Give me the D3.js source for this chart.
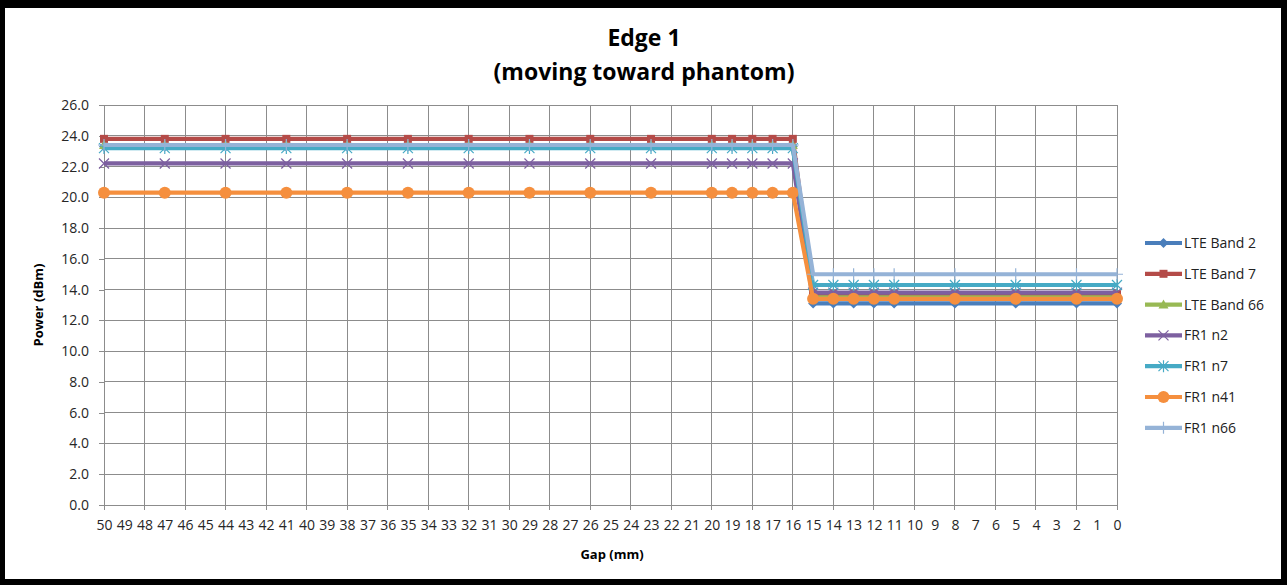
<!DOCTYPE html>
<html>
<head>
<meta charset="utf-8">
<script src="https://cdn.jsdelivr.net/npm/d3@7"></script>
<style>
  html, body { margin: 0; padding: 0; background: #000; }
  svg { display: block; }
</style>
</head>
<body>
<svg id="chart" width="1287" height="585"></svg>
<script>
// ---------- data ----------
const titleLines = ["Edge 1", "(moving toward phantom)"];
const xTitle = "Gap (mm)";
const yTitle = "Power (dBm)";

// every category on the axis (Excel category axis)
const categories = ["50","49","48","47","46","45","44","43","42","41","40","39","38","37","36","35","34","33","32","31","30","29","28","27","26","25","24","23","22","21","20","19","18","17","16","15","14","13","12","11","10","9","8","7","6","5","4","3","2","1","0"];

// gaps that carry measurements
const gaps = ["50","47","44","41","38","35","32","29","26","23","20","19","18","17","16","15","14","13","12","11","8","5","2","0"];

const seriesNames = ["LTE Band 2","LTE Band 7","LTE Band 66","FR1 n2","FR1 n7","FR1 n41","FR1 n66"];
const lteBand2  = [23.3,23.3,23.3,23.3,23.3,23.3,23.3,23.3,23.3,23.3,23.3,23.3,23.3,23.3,23.3,13.1,13.1,13.1,13.1,13.1,13.1,13.1,13.1,13.1];
const lteBand7  = [23.8,23.8,23.8,23.8,23.8,23.8,23.8,23.8,23.8,23.8,23.8,23.8,23.8,23.8,23.8,13.7,13.7,13.7,13.7,13.7,13.7,13.7,13.7,13.7];
const lteBand66 = [23.4,23.4,23.4,23.4,23.4,23.4,23.4,23.4,23.4,23.4,23.4,23.4,23.4,23.4,23.4,13.5,13.5,13.5,13.5,13.5,13.5,13.5,13.5,13.5];
const fr1n2     = [22.2,22.2,22.2,22.2,22.2,22.2,22.2,22.2,22.2,22.2,22.2,22.2,22.2,22.2,22.2,13.8,13.8,13.8,13.8,13.8,13.8,13.8,13.8,13.8];
const fr1n7     = [23.2,23.2,23.2,23.2,23.2,23.2,23.2,23.2,23.2,23.2,23.2,23.2,23.2,23.2,23.2,14.3,14.3,14.3,14.3,14.3,14.3,14.3,14.3,14.3];
const fr1n41    = [20.3,20.3,20.3,20.3,20.3,20.3,20.3,20.3,20.3,20.3,20.3,20.3,20.3,20.3,20.3,13.4,13.4,13.4,13.4,13.4,13.4,13.4,13.4,13.4];
const fr1n66    = [23.4,23.4,23.4,23.4,23.4,23.4,23.4,23.4,23.4,23.4,23.4,23.4,23.4,23.4,23.4,15.0,15.0,15.0,15.0,15.0,15.0,15.0,15.0,15.0];
const seriesValues = [lteBand2, lteBand7, lteBand66, fr1n2, fr1n7, fr1n41, fr1n66];

const yTicks = [0,2,4,6,8,10,12,14,16,18,20,22,24,26];

// ---------- styles ----------
const colors  = ["#4A7EBB","#B44B48","#98B954","#7D60A0","#46AAC5","#F58F3E","#95B3D7"];
const markers = ["diamond","square","triangle","x","asterisk","circle","plus"];

const svg = d3.select("#chart");
const W = 1287, H = 585;
const FONT = "'Open Sans', 'Liberation Sans', sans-serif";

// frame
svg.append("rect").attr("x",0).attr("y",0).attr("width",W).attr("height",H).attr("fill","#000");
svg.append("rect").attr("x",5).attr("y",8).attr("width",1276).attr("height",571).attr("fill","#fff");

const plot = {left:104, right:1117, top:105, bottom:505};

const x = d3.scalePoint().domain(categories).range([plot.left, plot.right]);
const y = d3.scaleLinear().domain([0,26]).range([plot.bottom, plot.top]);

const gridColor = "#8c8c8c";

// horizontal gridlines
svg.append("g").selectAll("line").data(yTicks).join("line")
  .attr("x1", plot.left).attr("x2", plot.right)
  .attr("y1", d => y(d)).attr("y2", d => y(d))
  .attr("stroke", gridColor).attr("stroke-width", 1).attr("shape-rendering","crispEdges");

// vertical gridlines every second category
const gridCats = categories.filter((c,i) => i % 2 === 0);
svg.append("g").selectAll("line").data(gridCats).join("line")
  .attr("x1", d => x(d)).attr("x2", d => x(d))
  .attr("y1", plot.top).attr("y2", plot.bottom)
  .attr("stroke", gridColor).attr("stroke-width", 1).attr("shape-rendering","crispEdges");

// y axis
const yAxis = svg.append("g").attr("transform", `translate(${plot.left},0)`)
  .call(d3.axisLeft(y).tickValues(yTicks).tickFormat(d3.format(".1f")).tickSize(5).tickPadding(10));
yAxis.select(".domain").attr("stroke", gridColor).attr("shape-rendering","crispEdges");
yAxis.selectAll(".tick line").attr("stroke", gridColor).attr("shape-rendering","crispEdges");
yAxis.selectAll("text").attr("font-family", FONT).attr("font-size", 14).attr("fill", "#262626");

// x axis
const xAxis = svg.append("g").attr("transform", `translate(0,${plot.bottom})`)
  .call(d3.axisBottom(x).tickSize(0).tickPadding(15));
xAxis.select(".domain").attr("stroke", gridColor).attr("shape-rendering","crispEdges");
xAxis.selectAll("text").attr("font-family", FONT).attr("font-size", 14).attr("fill", "#262626");
// tick marks every second category
xAxis.append("g").selectAll("line").data(gridCats).join("line")
  .attr("x1", d => x(d)).attr("x2", d => x(d)).attr("y1", 0).attr("y2", 5)
  .attr("stroke", gridColor).attr("shape-rendering","crispEdges");

// titles
const tg = svg.append("g").attr("font-family", FONT).attr("font-weight", "bold").attr("fill", "#000")
  .attr("text-anchor", "middle");
tg.append("text").attr("x", 644).attr("y", 46).attr("font-size", 23).text(titleLines[0]);
tg.append("text").attr("x", 644).attr("y", 80).attr("font-size", 23).text(titleLines[1]);

svg.append("text").attr("x", 612).attr("y", 559).attr("text-anchor","middle")
  .attr("font-family", FONT).attr("font-weight","bold").attr("font-size", 13).text(xTitle);
svg.append("text").attr("transform", `translate(43,305) rotate(-90)`).attr("text-anchor","middle")
  .attr("font-family", FONT).attr("font-weight","bold").attr("font-size", 13).text(yTitle);

// marker drawing
function drawMarker(g, type, color, cx, cy) {
  const s = 5;
  if (type === "diamond") {
    g.append("path").attr("d", `M${cx},${cy-s} L${cx+s},${cy} L${cx},${cy+s} L${cx-s},${cy} Z`).attr("fill", color);
  } else if (type === "square") {
    g.append("rect").attr("x", cx-4).attr("y", cy-4).attr("width", 8).attr("height", 8).attr("fill", color);
  } else if (type === "triangle") {
    g.append("path").attr("d", `M${cx},${cy-5} L${cx+5},${cy+4} L${cx-5},${cy+4} Z`).attr("fill", color);
  } else if (type === "x") {
    g.append("path").attr("d", `M${cx-5},${cy-5} L${cx+5},${cy+5} M${cx-5},${cy+5} L${cx+5},${cy-5}`)
      .attr("stroke", color).attr("stroke-width", 1.2).attr("fill","none");
  } else if (type === "asterisk") {
    g.append("path").attr("d", `M${cx-5},${cy-5} L${cx+5},${cy+5} M${cx-5},${cy+5} L${cx+5},${cy-5} M${cx},${cy-6} L${cx},${cy+6}`)
      .attr("stroke", color).attr("stroke-width", 1.2).attr("fill","none");
  } else if (type === "circle") {
    g.append("circle").attr("cx", cx).attr("cy", cy).attr("r", 6).attr("fill", color);
  } else if (type === "plus") {
    g.append("path").attr("d", `M${cx-6},${cy} L${cx+6},${cy} M${cx},${cy-6} L${cx},${cy+6}`)
      .attr("stroke", color).attr("stroke-width", 1.2).attr("fill","none");
  }
}

const line = d3.line().x(d => x(d.gap)).y(d => y(d.v));

seriesNames.forEach((name, si) => {
  const data = gaps.map((g, i) => ({gap: g, v: seriesValues[si][i]}));
  const g = svg.append("g");
  g.append("path").datum(data).attr("d", line).attr("fill","none")
    .attr("stroke", colors[si]).attr("stroke-width", 4.2).attr("stroke-linejoin","round");
  data.forEach(d => drawMarker(g, markers[si], colors[si], x(d.gap), y(d.v)));
});

// legend
const lg = svg.append("g");
seriesNames.forEach((name, si) => {
  const ly = 243 + si * 30.8;
  const g = lg.append("g");
  g.append("line").attr("x1", 1145).attr("x2", 1182).attr("y1", ly).attr("y2", ly)
    .attr("stroke", colors[si]).attr("stroke-width", 4.2);
  drawMarker(g, markers[si], colors[si], 1163.5, ly);
  g.append("text").attr("x", 1184).attr("y", ly).attr("dy", "0.35em")
    .attr("font-family", FONT).attr("font-size", 14).attr("fill", "#222").text(name);
});
</script>
</body>
</html>
